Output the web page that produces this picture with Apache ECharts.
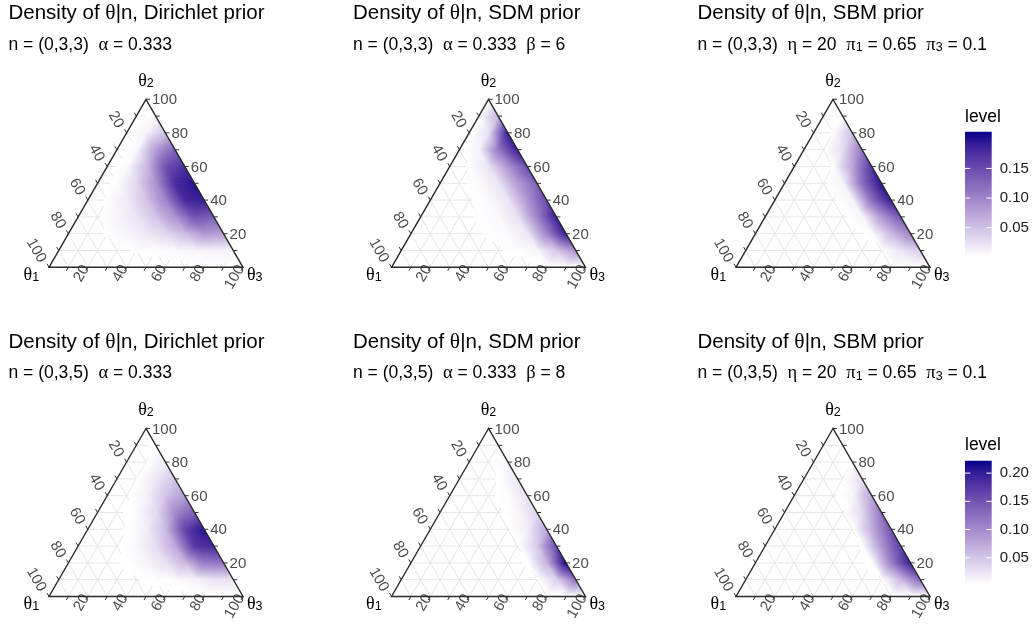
<!DOCTYPE html>
<html><head><meta charset="utf-8">
<script src="https://cdn.jsdelivr.net/npm/echarts@6.0.0/dist/echarts.min.js"></script>
<style>html,body{margin:0;padding:0;background:#fff;}#chart{width:1034px;height:624px;}</style>
</head><body><div id="chart"></div>
<script>
// ---------------- data ----------------
const titleTexts = [
  "Density of {g|θ}|n, Dirichlet prior",
  "Density of {g|θ}|n, SDM prior",
  "Density of {g|θ}|n, SBM prior",
  "Density of {g|θ}|n, Dirichlet prior",
  "Density of {g|θ}|n, SDM prior",
  "Density of {g|θ}|n, SBM prior"
];
const subtitleTexts = [
  "n = (0,3,3)  {g|α} = 0.333",
  "n = (0,3,3)  {g|α} = 0.333  {g|β} = 6",
  "n = (0,3,3)  {g|η} = 20  {g|π}{s|1} = 0.65  {g|π}{s|3} = 0.1",
  "n = (0,3,5)  {g|α} = 0.333",
  "n = (0,3,5)  {g|α} = 0.333  {g|β} = 8",
  "n = (0,3,5)  {g|η} = 20  {g|π}{s|1} = 0.65  {g|π}{s|3} = 0.1"
];
const axisTickValues = [10, 20, 30, 40, 50, 60, 70, 80, 90, 100];
const axisLabelValues = [20, 40, 60, 80, 100];
const gridValues = [10, 20, 30, 40, 50, 60, 70, 80, 90];
const vertexSubs = ["1", "2", "3"];
const legendTitle = "level";
const legendRangeTop = [0.001, 0.212];
const legendTicksTop = [0.05, 0.10, 0.15];
const legendRangeBottom = [0.003, 0.222];
const legendTicksBottom = [0.05, 0.10, 0.15, 0.20];
const fillThreshold = 0.0025;

// density at lattice points: row r -> theta2 = 100-10r ; index j -> theta3 = 10j ; theta1 = 10(r-j)
const densDirichlet33 = [
  [0],
  [0, 0.005],
  [0, 0.01, 0.05],
  [0, 0.006, 0.08, 0.13],
  [0, 0.005, 0.055, 0.144, 0.175],
  [0, 0.004, 0.033, 0.088, 0.18, 0.2],
  [0, 0.003, 0.018, 0.048, 0.1, 0.18, 0.19],
  [0, 0.0015, 0.009, 0.022, 0.048, 0.088, 0.144, 0.133],
  [0, 0.0008, 0.003, 0.009, 0.018, 0.032, 0.055, 0.085, 0.076],
  [0, 0, 0.0008, 0.0015, 0.003, 0.004, 0.006, 0.009, 0.012, 0.01],
  [0, 0, 0, 0, 0, 0, 0, 0, 0, 0, 0]
];
const densSDM33 = [
  [0],
  [0, 0.06],
  [0, 0.025, 0.19],
  [0, 0.01, 0.11, 0.19],
  [0, 0.003, 0.022, 0.085, 0.15],
  [0, 0.001, 0.005, 0.022, 0.08, 0.13],
  [0, 0, 0.002, 0.005, 0.022, 0.085, 0.15],
  [0, 0, 0.001, 0.003, 0.006, 0.025, 0.1, 0.19],
  [0, 0, 0, 0.0015, 0.003, 0.005, 0.02, 0.1, 0.19],
  [0, 0, 0, 0, 0.001, 0.002, 0.004, 0.008, 0.045, 0.09],
  [0, 0, 0, 0, 0, 0, 0, 0, 0, 0, 0]
];
const densSBM33 = [
  [0],
  [0, 0.005],
  [0, 0.003, 0.05],
  [0, 0, 0.028, 0.11],
  [0, 0, 0.003, 0.075, 0.17],
  [0, 0, 0.001, 0.009, 0.12, 0.2],
  [0, 0, 0, 0.001, 0.009, 0.12, 0.19],
  [0, 0, 0, 0, 0.001, 0.008, 0.085, 0.14],
  [0, 0, 0, 0, 0, 0, 0.004, 0.055, 0.1],
  [0, 0, 0, 0, 0, 0, 0, 0.001, 0.022, 0.04],
  [0, 0, 0, 0, 0, 0, 0, 0, 0, 0, 0]
];
const densDirichlet35 = [
  [0],
  [0, 0.004],
  [0, 0.002, 0.02],
  [0, 0.0025, 0.022, 0.05],
  [0, 0.001, 0.014, 0.052, 0.085],
  [0, 0.0005, 0.007, 0.032, 0.1, 0.14],
  [0, 0.0003, 0.0028, 0.016, 0.06, 0.165, 0.21],
  [0, 0.0002, 0.0016, 0.009, 0.03, 0.075, 0.175, 0.19],
  [0, 0, 0.0008, 0.0035, 0.011, 0.028, 0.06, 0.115, 0.12],
  [0, 0, 0, 0.001, 0.002, 0.004, 0.007, 0.013, 0.025, 0.025],
  [0, 0, 0, 0, 0, 0, 0, 0, 0, 0, 0]
];
const densSDM35 = [
  [0],
  [0, 0.001],
  [0, 0.001, 0.012],
  [0, 0, 0.003, 0.022],
  [0, 0, 0.0005, 0.006, 0.028],
  [0, 0, 0, 0.001, 0.01, 0.038],
  [0, 0, 0, 0, 0.0015, 0.018, 0.075],
  [0, 0, 0, 0, 0, 0.002, 0.045, 0.16],
  [0, 0, 0, 0, 0, 0.0005, 0.003, 0.065, 0.22],
  [0, 0, 0, 0, 0, 0, 0, 0.002, 0.04, 0.12],
  [0, 0, 0, 0, 0, 0, 0, 0, 0, 0, 0]
];
const densSBM35 = [
  [0],
  [0, 0],
  [0, 0, 0.003],
  [0, 0, 0.002, 0.03],
  [0, 0, 0, 0.012, 0.08],
  [0, 0, 0, 0.001, 0.035, 0.12],
  [0, 0, 0, 0, 0.002, 0.07, 0.15],
  [0, 0, 0, 0, 0, 0.003, 0.09, 0.17],
  [0, 0, 0, 0, 0, 0, 0.004, 0.11, 0.2],
  [0, 0, 0, 0, 0, 0, 0, 0.002, 0.06, 0.13],
  [0, 0, 0, 0, 0, 0, 0, 0, 0, 0, 0]
];
const panelDensities = [densDirichlet33, densSDM33, densSBM33, densDirichlet35, densSDM35, densSBM35];

// ---------------- layout / style ----------------
const FONT = "Liberation Sans";
const GREEK = "Liberation Serif";
const PANEL_LEFT = [49, 391.5, 736];
const ROW_TOP = [99.3, 428.5];
const TRI_W = 194, TRI_H = 168;
const TITLE_LEFT = [8.5, 353, 697.5];
const TITLE_TOP = [2.5, 331];
const SUB_TOP = [35.5, 364];
const LEG_LEFT = 965, LEG_W = 26.7;
const LEG_TOP = [131.7, 460.7], LEG_H = [125, 123.6];
const LEG_TITLE_TOP = [108, 436.3];
const SQ = Math.sqrt(3) / 2;

// ---------------- colour ramp (Lab, white -> darkblue) ----------------
function toLin(c) { c /= 255; return c <= 0.04045 ? c / 12.92 : Math.pow((c + 0.055) / 1.055, 2.4); }
function fromLin(c) { c = c <= 0.0031308 ? 12.92 * c : 1.055 * Math.pow(c, 1 / 2.4) - 0.055; return Math.round(Math.max(0, Math.min(1, c)) * 255); }
const XN = 0.95047, YN = 1, ZN = 1.08883;
function fLab(t) { return t > 0.008856 ? Math.cbrt(t) : 7.787 * t + 16 / 116; }
function fInv(t) { const t3 = t * t * t; return t3 > 0.008856 ? t3 : (t - 16 / 116) / 7.787; }
function rgbToLab(rgb) {
  const r = toLin(rgb[0]), g = toLin(rgb[1]), b = toLin(rgb[2]);
  const X = (0.4124564 * r + 0.3575761 * g + 0.1804375 * b) / XN;
  const Y = (0.2126729 * r + 0.7151522 * g + 0.0721750 * b) / YN;
  const Z = (0.0193339 * r + 0.1191920 * g + 0.9503041 * b) / ZN;
  const fx = fLab(X), fy = fLab(Y), fz = fLab(Z);
  return [116 * fy - 16, 500 * (fx - fy), 200 * (fy - fz)];
}
function labToRgb(lab) {
  const fy = (lab[0] + 16) / 116, fx = fy + lab[1] / 500, fz = fy - lab[2] / 200;
  const X = XN * fInv(fx), Y = YN * fInv(fy), Z = ZN * fInv(fz);
  const r = 3.2404542 * X - 1.5371385 * Y - 0.4985314 * Z;
  const g = -0.9692660 * X + 1.8760108 * Y + 0.0415560 * Z;
  const b = 0.0556434 * X - 0.2040259 * Y + 1.0572252 * Z;
  return [fromLin(r), fromLin(g), fromLin(b)];
}
const LAB_LO = rgbToLab([255, 255, 255]), LAB_HI = rgbToLab([0, 0, 139]);
function ramp(t) {
  t = Math.max(0, Math.min(1, t));
  const lab = [0, 1, 2].map(i => LAB_LO[i] + (LAB_HI[i] - LAB_LO[i]) * t);
  const c = labToRgb(lab);
  return "rgb(" + c[0] + "," + c[1] + "," + c[2] + ")";
}
const TRANSP = "rgba(255,255,255,0)";

function cart(t3, t2) { return [t3 + t2 / 2, t2 * SQ]; }

function buildTris(rows) {
  const tris = [];
  for (let r = 0; r < rows.length - 1; r++) {
    for (let j = 0; j <= r; j++) {
      const a = [10 * j, 100 - 10 * r, rows[r][j]];
      const b = [10 * j, 100 - 10 * (r + 1), rows[r + 1][j]];
      const c = [10 * (j + 1), 100 - 10 * (r + 1), rows[r + 1][j + 1]];
      tris.push(a.concat(b, c));
      if (j < r) {
        const d = [10 * (j + 1), 100 - 10 * r, rows[r][j + 1]];
        tris.push(a.concat(d, c));
      }
    }
  }
  return tris;
}

function gradStops(vmin, vmax, lo, hi) {
  const stops = [];
  let start = vmin;
  if (vmin < fillThreshold) {
    const o = (fillThreshold - vmin) / (vmax - vmin);
    stops.push({ offset: 0, color: TRANSP }, { offset: o, color: TRANSP });
    start = fillThreshold;
  }
  const N = 6;
  for (let i = 0; i <= N; i++) {
    const v = start + (vmax - start) * i / N;
    stops.push({ offset: Math.min(1, (v - vmin) / (vmax - vmin)), color: ramp((v - lo) / (hi - lo)) });
  }
  return stops;
}

function densRender(range) {
  return function (params, api) {
    const P = [], V = [];
    for (let k = 0; k < 3; k++) {
      P.push(api.coord(cart(api.value(3 * k), api.value(3 * k + 1))));
      V.push(api.value(3 * k + 2));
    }
    const vmin = Math.min(V[0], V[1], V[2]), vmax = Math.max(V[0], V[1], V[2]);
    if (vmax < fillThreshold) return null;
    let fill, stroke;
    if (vmax - vmin < 1e-9) {
      fill = stroke = ramp((vmax - range[0]) / (range[1] - range[0]));
    } else {
      const d1 = [P[1][0] - P[0][0], P[1][1] - P[0][1]], d2 = [P[2][0] - P[0][0], P[2][1] - P[0][1]];
      const dv1 = V[1] - V[0], dv2 = V[2] - V[0];
      const det = d1[0] * d2[1] - d1[1] * d2[0];
      const gx = (dv1 * d2[1] - dv2 * d1[1]) / det, gy = (d1[0] * dv2 - d2[0] * dv1) / det;
      const gg = gx * gx + gy * gy;
      const ka = (vmin - V[0]) / gg, kb = (vmax - V[0]) / gg;
      const ax = P[0][0] + gx * ka, ay = P[0][1] + gy * ka, bx = P[0][0] + gx * kb, by = P[0][1] + gy * kb;
      fill = new echarts.graphic.LinearGradient(ax, ay, bx, by, gradStops(vmin, vmax, range[0], range[1]), true);
      stroke = new echarts.graphic.LinearGradient(ax, ay, bx, by, gradStops(vmin, vmax, range[0], range[1]), true);
    }
    return { type: 'polygon', shape: { points: P }, style: { fill: fill, stroke: stroke, lineWidth: 0.8 } };
  };
}

function gridRender(params, api) {
  const k = api.value(0);
  const seg = (p, q) => ({ type: 'line', shape: { x1: p[0], y1: p[1], x2: q[0], y2: q[1] }, style: { stroke: '#e6e6e6', lineWidth: 1 } });
  return {
    type: 'group', children: [
      seg(api.coord(cart(0, k)), api.coord(cart(100 - k, k))),
      seg(api.coord(cart(k, 0)), api.coord(cart(k, 100 - k))),
      seg(api.coord(cart(0, 100 - k)), api.coord(cart(100 - k, 0)))
    ]
  };
}

function frameRender(params, api) {
  const apex = api.coord(cart(0, 100)), bl = api.coord(cart(0, 0)), br = api.coord(cart(100, 0));
  const ch = [];
  const TL = 4, TC = '#333333';
  axisTickValues.forEach(k => {
    const pr = api.coord(cart(100 - k, k));
    ch.push({ type: 'line', shape: { x1: pr[0], y1: pr[1], x2: pr[0] + TL, y2: pr[1] }, style: { stroke: TC, lineWidth: 1 } });
    const pl = api.coord(cart(0, 100 - k));
    ch.push({ type: 'line', shape: { x1: pl[0], y1: pl[1], x2: pl[0] - TL * 0.5, y2: pl[1] - TL * SQ }, style: { stroke: TC, lineWidth: 1 } });
    const pb = api.coord(cart(k, 0));
    ch.push({ type: 'line', shape: { x1: pb[0], y1: pb[1], x2: pb[0] - TL * 0.5, y2: pb[1] + TL * SQ }, style: { stroke: TC, lineWidth: 1 } });
  });
  const lab = (x, y, txt, rot, align) => ({
    type: 'text', x: x, y: y, rotation: rot,
    style: { text: String(txt), fill: '#4d4d4d', fontSize: 15, fontFamily: FONT, align: align, verticalAlign: 'middle' }
  });
  axisLabelValues.forEach(k => {
    const pr = api.coord(cart(100 - k, k));
    ch.push(lab(pr[0] + 6, pr[1] + 1, k, 0, 'left'));
    const pl = api.coord(cart(0, 100 - k));
    ch.push(lab(pl[0] - 6.5, pl[1] - 6, k, -Math.PI / 3, 'right'));
    const pb = api.coord(cart(k, 0));
    ch.push(lab(pb[0] - 2, pb[1] - 1, k, Math.PI / 3, 'right'));
  });
  ch.push({ type: 'polygon', shape: { points: [apex, bl, br] }, style: { fill: 'none', stroke: '#2b2b2b', lineWidth: 1.4 } });
  const vtx = (x, y, sub) => ({
    type: 'text', x: x, y: y,
    style: {
      text: '{g|θ}{s|' + sub + '}', align: 'center', verticalAlign: 'middle',
      rich: {
        g: { fontFamily: GREEK, fontSize: 18, fill: '#000' },
        s: { fontFamily: FONT, fontSize: 12.5, fill: '#000', verticalAlign: 'bottom', lineHeight: 7 }
      }
    }
  });
  ch.push(vtx(bl[0] - 17.6, bl[1] + 7.7, vertexSubs[0]));
  ch.push(vtx(apex[0], apex[1] - 18.3, vertexSubs[1]));
  ch.push(vtx(br[0] + 11.7, br[1] + 7.5, vertexSubs[2]));
  return { type: 'group', children: ch };
}

function barRender(range, ticks) {
  return function (params, api) {
    const p0 = api.coord([0, range[1]]), p1 = api.coord([1, range[0]]);
    const stops = [];
    for (let i = 0; i <= 12; i++) stops.push({ offset: i / 12, color: ramp(1 - i / 12) });
    const ch = [{ type: 'rect', shape: { x: p0[0], y: p0[1], width: p1[0] - p0[0], height: p1[1] - p0[1] }, style: { fill: new echarts.graphic.LinearGradient(0, 0, 0, 1, stops) } }];
    ticks.forEach(t => {
      const a = api.coord([0, t]), b = api.coord([1, t]);
      ch.push({ type: 'line', shape: { x1: a[0], y1: a[1], x2: a[0] + 5.3, y2: a[1] }, style: { stroke: '#ffffff', lineWidth: 1 } });
      ch.push({ type: 'line', shape: { x1: b[0] - 5.3, y1: b[1], x2: b[0], y2: b[1] }, style: { stroke: '#ffffff', lineWidth: 1 } });
    });
    return { type: 'group', children: ch };
  };
}

// ---------------- option ----------------
const grids = [], xAxes = [], yAxes = [], series = [], titles = [];
for (let p = 0; p < 6; p++) {
  const r = Math.floor(p / 3), c = p % 3;
  const range = r === 0 ? legendRangeTop : legendRangeBottom;
  grids.push({ left: PANEL_LEFT[c], top: ROW_TOP[r], width: TRI_W, height: TRI_H });
  xAxes.push({ gridIndex: p, type: 'value', min: 0, max: 100, show: false });
  yAxes.push({ gridIndex: p, type: 'value', min: 0, max: 100 * SQ, show: false });
  series.push({ type: 'custom', xAxisIndex: p, yAxisIndex: p, z: 1, silent: true, renderItem: gridRender, data: gridValues.map(v => [v]) });
  series.push({ type: 'custom', xAxisIndex: p, yAxisIndex: p, z: 2, silent: true, renderItem: densRender(range), data: buildTris(panelDensities[p]) });
  series.push({ type: 'custom', xAxisIndex: p, yAxisIndex: p, z: 3, silent: true, renderItem: frameRender, data: [[0]] });
  titles.push({
    text: titleTexts[p], left: TITLE_LEFT[c], top: TITLE_TOP[r], padding: 0,
    textStyle: { fontSize: 20.5, fontWeight: 'normal', color: '#000', fontFamily: FONT, rich: { g: { fontFamily: GREEK, fontSize: 21.5, color: '#000' } } }
  });
  titles.push({
    text: subtitleTexts[p], left: TITLE_LEFT[c], top: SUB_TOP[r], padding: 0,
    textStyle: {
      fontSize: 17.5, fontWeight: 'normal', color: '#000', fontFamily: FONT,
      rich: {
        g: { fontFamily: GREEK, fontSize: 18.5, color: '#000' },
        s: { fontFamily: FONT, fontSize: 12.5, color: '#000', verticalAlign: 'bottom', lineHeight: 10 }
      }
    }
  });
}
[0, 1].forEach(r => {
  const gi = 6 + r;
  const range = r === 0 ? legendRangeTop : legendRangeBottom;
  const ticks = r === 0 ? legendTicksTop : legendTicksBottom;
  grids.push({ left: LEG_LEFT, top: LEG_TOP[r], width: LEG_W, height: LEG_H[r] });
  xAxes.push({ gridIndex: gi, type: 'value', min: 0, max: 1, show: false });
  yAxes.push({
    gridIndex: gi, type: 'value', min: range[0], max: range[1], position: 'right',
    axisLine: { show: false }, axisTick: { show: false }, splitLine: { show: false },
    axisLabel: { customValues: ticks, formatter: v => v.toFixed(2), fontSize: 15, color: '#1a1a1a', fontFamily: FONT, margin: 8 }
  });
  series.push({ type: 'custom', xAxisIndex: gi, yAxisIndex: gi, z: 2, silent: true, renderItem: barRender(range, ticks), data: [[0, range[0]]] });
  titles.push({ text: legendTitle, left: LEG_LEFT, top: LEG_TITLE_TOP[r], padding: 0, textStyle: { fontSize: 17.5, fontWeight: 'normal', color: '#000', fontFamily: FONT } });
});

const chart = echarts.init(document.getElementById('chart'), null, { renderer: 'canvas', width: 1034, height: 624 });
chart.setOption({
  backgroundColor: '#ffffff',
  animation: false,
  title: titles,
  grid: grids,
  xAxis: xAxes,
  yAxis: yAxes,
  series: series
});
</script>
</body></html>
